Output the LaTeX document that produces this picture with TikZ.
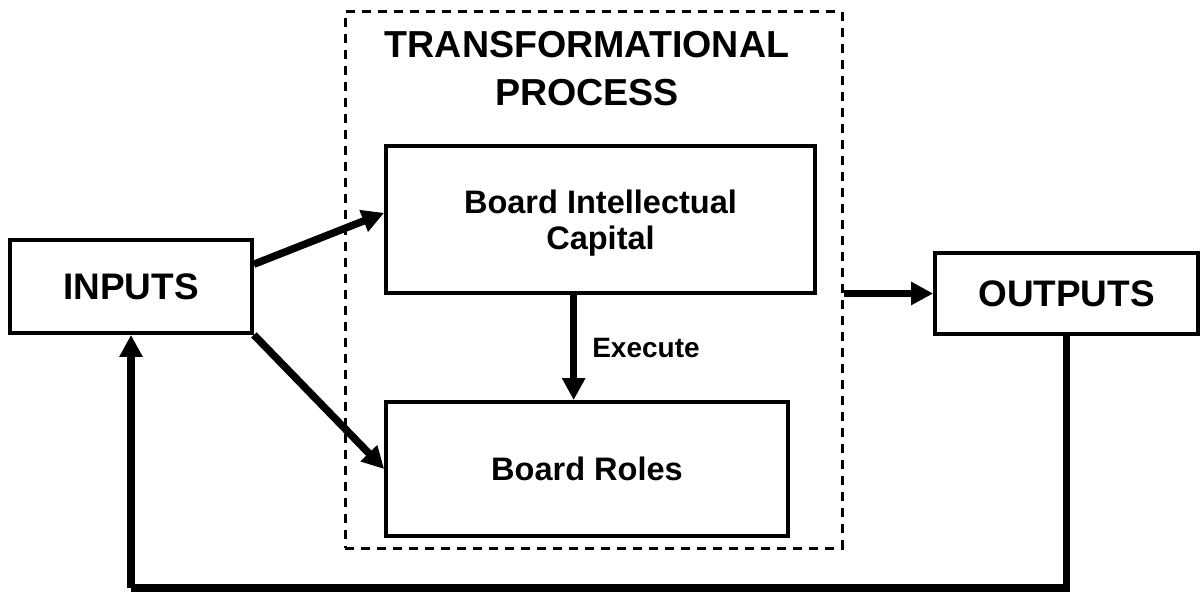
\documentclass[tikz,border=0pt]{standalone}
\usepackage{fontspec}
\setmainfont{Liberation Sans}
\usetikzlibrary{arrows.meta,calc}

\begin{document}
\begin{tikzpicture}[
  x=0.75pt, y=-0.75pt,
  blk/.style={draw, line width=2.8pt, rectangle, inner sep=0pt, align=center},
  bigtxt/.style={font=\bfseries\fontsize{27.7}{33}\selectfont},
  midtxt/.style={font=\bfseries\fontsize{24.4}{27}\selectfont},
  arr/.style={line width=5.6pt, -{Triangle[length=16.5pt,width=16.5pt]}},
  feed/.style={line width=5.6pt},
  frame/.style={draw, line width=2.25pt, dash pattern=on 6.75pt off 5.25pt, rectangle, inner sep=0pt}
]
\useasboundingbox (0,0) rectangle (1202,592);

% transformational process frame and heading
\node[frame, minimum width=497*0.75pt, minimum height=536*0.75pt] (tp) at (593.5,280) {};
\node[align=center, font=\bfseries\fontsize{28.2}{35.6}\selectfont] (ttl) at (587,68.5)
  {TRANSFORMATIONAL\\PROCESS};

% blocks
\node[blk, bigtxt, minimum width=242*0.75pt, minimum height=93*0.75pt] (in) at (131,286.5) {INPUTS};
\node[blk, bigtxt, minimum width=263*0.75pt, minimum height=81*0.75pt] (out) at (1066.5,293.5) {OUTPUTS};
\node[blk, midtxt, text depth=0pt, minimum width=429*0.75pt, minimum height=147*0.75pt] (bic) at (600.5,219.5)
  {Board Intellectual\\Capital};
\node[blk, midtxt, minimum width=402*0.75pt, minimum height=134*0.75pt] (br) at (587,469) {Board Roles};

% connectors
\coordinate (inA) at ($(in.north east)!0.27!(in.south east)$);
\coordinate (bicA) at ($(bic.north west)!0.456!(bic.south west)$);
\draw[arr] (inA) -- (bicA);
\draw[arr] (in.south east) -- (br.west);

\coordinate (ex0) at ($(bic.south west)!0.438!(bic.south east)$);
\draw[arr] (ex0) -- (ex0 |- br.north);
\node[anchor=west, inner sep=0pt, font=\bfseries\fontsize{21}{25}\selectfont] (ex) at (592,348) {Execute};

\draw[arr] (out.west -| tp.east) -- (out.west);

% feedback loop
\coordinate (fb) at (0,588);
\draw[feed] (out.south) -- (out.south |- fb) -- (in.south |- fb);
\draw[arr] (in.south |- fb) -- (in.south);
\end{tikzpicture}
\end{document}
